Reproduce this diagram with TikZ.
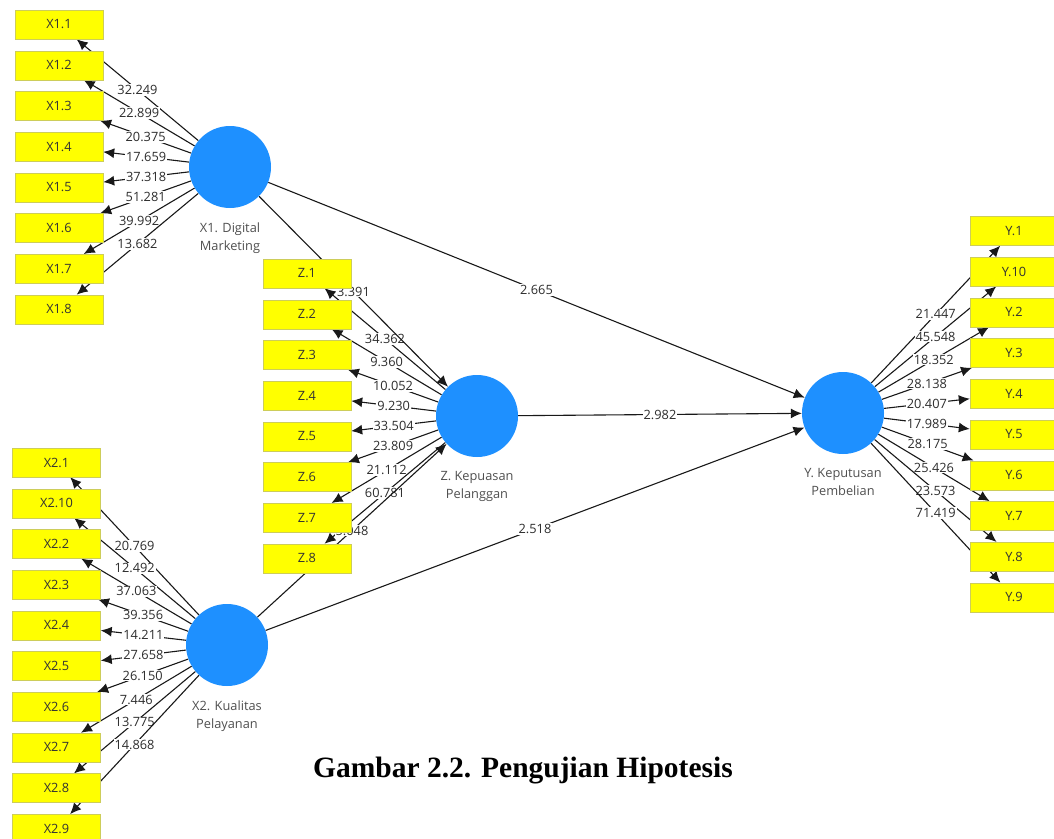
\documentclass[tikz,border=0pt]{standalone}
\usepackage{fontspec}
\setmainfont{Liberation Serif}
\newfontfamily\uifont{Open Sans}
\usepackage{xcolor}
\usetikzlibrary{arrows.meta,positioning}

\definecolor{indyellow}{RGB}{255,255,0}
\definecolor{indedge}{RGB}{205,205,90}
\definecolor{lvblue}{RGB}{30,144,255}
\definecolor{lvtext}{RGB}{80,80,80}
\definecolor{coeftext}{RGB}{45,45,45}
\pgfdeclarelayer{bg}
\pgfsetlayers{bg,main}

\begin{document}
\begin{tikzpicture}[x=1pt,y=-1pt,every node/.style={font=\uifont\fontsize{12.8}{18}\selectfont},
  ind/.style={draw=indedge,fill=indyellow,minimum width=88pt,minimum height=29pt,inner sep=0pt,text=black!80},
  lv/.style={circle,fill=lvblue,minimum size=82pt,inner sep=0pt},
  lvname/.style={below=14pt of #1,align=center,text=lvtext,inner sep=0pt},
  coef/.style={fill=white,inner sep=1pt,text=coeftext},
  link/.style={draw=black!90,line width=1.1pt,-{Latex[length=11pt,width=10pt]}}]
  \useasboundingbox (0,0) rectangle (1054,838);
  \begin{pgfonlayer}{bg}
    \fill[white] (0,0) rectangle (1054,838);
  \end{pgfonlayer}

  % latent variables
  \node[lv] (x1) at (230,167) {};
  \node[lvname=x1] (x1name) {X1. Digital\\Marketing};
  \node[lv] (z) at (477,416) {};
  \node[lvname=z] (zname) {Z. Kepuasan\\Pelanggan};
  \node[lv] (x2) at (227,645) {};
  \node[lvname=x2] (x2name) {X2. Kualitas\\Pelayanan};
  \node[lv] (y) at (843,413) {};
  \node[lvname=y] (yname) {Y. Keputusan\\Pembelian};

  % indicators with outer loadings
  \foreach \v [count=\i] in {32.249,22.899,20.375,17.659,37.318,51.281,39.992,13.682} {
    \node[ind] (x1-\i) at (59,{24.5+40.7*(\i-1)}) {X1.\i};
    \begin{pgfonlayer}{bg}
      \draw[link] (x1) -- node[coef] {\v} (x1-\i);
    \end{pgfonlayer}
  }
  \foreach \v [count=\i] in {34.362,9.360,10.052,9.230,33.504,23.809,21.112,60.781} {
    \node[ind] (z-\i) at (307,{273.5+40.7*(\i-1)}) {Z.\i};
    \begin{pgfonlayer}{bg}
      \draw[link] (z) -- node[coef] {\v} (z-\i);
    \end{pgfonlayer}
  }
  \foreach \t/\v [count=\i] in {1/20.769,10/12.492,2/37.063,3/39.356,4/14.211,5/27.658,6/26.150,7/7.446,8/13.775,9/14.868} {
    \node[ind] (x2-\i) at (56.5,{462.5+40.7*(\i-1)}) {X2.\t};
    \begin{pgfonlayer}{bg}
      \draw[link] (x2) -- node[coef] {\v} (x2-\i);
    \end{pgfonlayer}
  }
  \foreach \t/\v [count=\i] in {1/21.447,10/45.548,2/18.352,3/28.138,4/20.407,5/17.989,6/28.175,7/25.426,8/23.573,9/71.419} {
    \node[ind] (y-\i) at (1014,{231+40.7*(\i-1)}) {Y.\t};
    \begin{pgfonlayer}{bg}
      \draw[link] (y) -- node[coef] {\v} (y-\i);
    \end{pgfonlayer}
  }

  % inner model
  \begin{pgfonlayer}{bg}
    \draw[link] (x1) -- node[coef] {3.391} (z);
    \draw[link] (x2) -- node[coef] {5.048} (z);
    \draw[link] (x1) -- node[coef] {2.665} (y);
    \draw[link] (z) -- node[coef] {2.982} (y);
    \draw[link] (x2) -- node[coef] {2.518} (y);
  \end{pgfonlayer}

  \node[font=\normalfont\bfseries\fontsize{29.5}{34}\selectfont] (caption) at (523,771) {Gambar 2.2. Pengujian Hipotesis};
\end{tikzpicture}
\end{document}
